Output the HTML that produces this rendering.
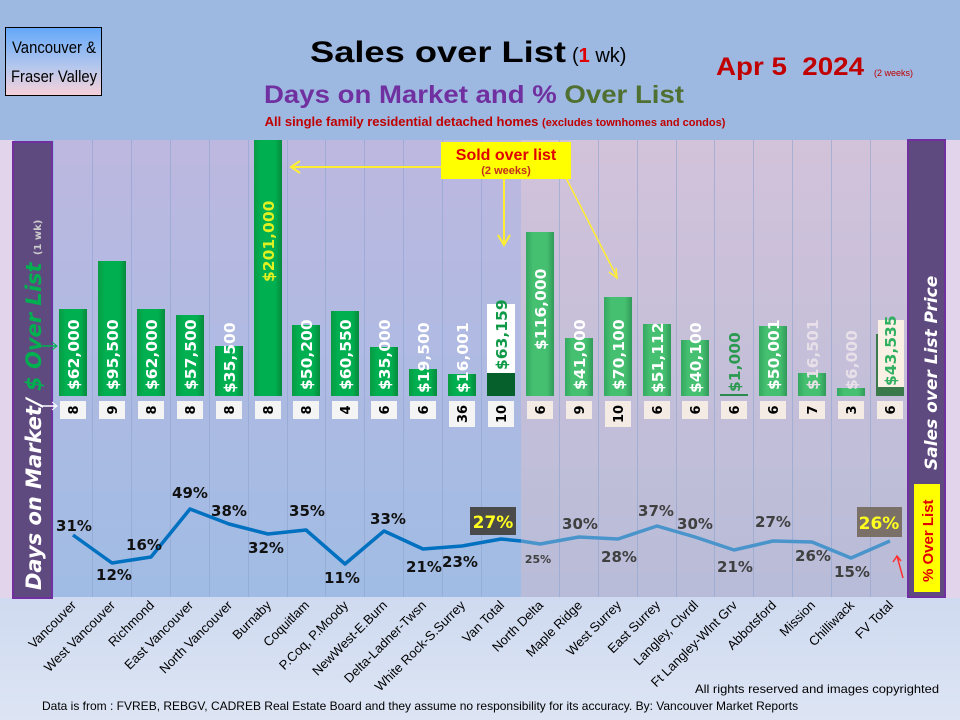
<!DOCTYPE html>
<html><head><meta charset="utf-8"><style>
html,body{margin:0;padding:0;width:960px;height:720px;overflow:hidden;background:#9db9e2}
svg{display:block}
.v{font-family:"DejaVu Sans","Liberation Sans",sans-serif;font-weight:bold;font-size:15.5px;fill:#fff}
.d{font-family:"DejaVu Sans","Liberation Sans",sans-serif;font-weight:bold;font-size:13px;fill:#000}
.c{font-family:"Liberation Sans",sans-serif;font-size:13px;fill:#000}
.p{font-family:"DejaVu Sans","Liberation Sans",sans-serif;font-weight:bold;font-size:15px;fill:#111;text-anchor:middle}
.q{font-family:"DejaVu Sans","Liberation Sans",sans-serif;font-weight:bold;font-size:15px;fill:#404040;text-anchor:middle}
</style></head><body>
<svg width="960" height="720" viewBox="0 0 960 720" xmlns="http://www.w3.org/2000/svg">
<defs>
<linearGradient id="bgL" x1="0" y1="0" x2="0" y2="1"><stop offset="0" stop-color="#bdb8e0"/><stop offset="1" stop-color="#a0bce4"/></linearGradient>
<linearGradient id="bgR" x1="0" y1="0" x2="0" y2="1"><stop offset="0" stop-color="#d2c2da"/><stop offset="1" stop-color="#b8bcd8"/></linearGradient>
<linearGradient id="bot" x1="0" y1="0" x2="0" y2="1"><stop offset="0" stop-color="#cfdaf0"/><stop offset="1" stop-color="#dde5f4"/></linearGradient>
<linearGradient id="box" x1="0" y1="0" x2="0" y2="1"><stop offset="0" stop-color="#64a8fa"/><stop offset="0.6" stop-color="#b8c8ec"/><stop offset="1" stop-color="#f8d0d8"/></linearGradient>
<linearGradient id="gb" x1="0" y1="0" x2="1" y2="0"><stop offset="0" stop-color="#0a9a44"/><stop offset="0.25" stop-color="#00b050"/><stop offset="0.75" stop-color="#00b050"/><stop offset="1" stop-color="#078a3c"/></linearGradient>
<linearGradient id="gr" x1="0" y1="0" x2="1" y2="0"><stop offset="0" stop-color="#34a860"/><stop offset="0.25" stop-color="#45bf70"/><stop offset="0.75" stop-color="#45bf70"/><stop offset="1" stop-color="#309a58"/></linearGradient>
</defs>
<rect x="0" y="0" width="960" height="140" fill="#9db9e2"/>
<rect x="0" y="597" width="960" height="123" fill="url(#bot)"/>
<rect x="0" y="140" width="14" height="458" fill="#e2d4ea"/>
<rect x="945" y="140" width="15" height="458" fill="#e2d4ea"/>
<rect x="54" y="140" width="467" height="457" fill="url(#bgL)"/>
<rect x="521" y="140" width="387" height="457" fill="url(#bgR)"/>
<g stroke="#8ea4d0" stroke-width="1" opacity="0.6">
<line x1="92.5" y1="140" x2="92.5" y2="597"/><line x1="131.5" y1="140" x2="131.5" y2="597"/><line x1="170.5" y1="140" x2="170.5" y2="597"/><line x1="209.5" y1="140" x2="209.5" y2="597"/><line x1="248.5" y1="140" x2="248.5" y2="597"/><line x1="287.5" y1="140" x2="287.5" y2="597"/><line x1="325.5" y1="140" x2="325.5" y2="597"/><line x1="364.5" y1="140" x2="364.5" y2="597"/><line x1="403.5" y1="140" x2="403.5" y2="597"/><line x1="442.5" y1="140" x2="442.5" y2="597"/><line x1="481.5" y1="140" x2="481.5" y2="597"/><line x1="559.5" y1="140" x2="559.5" y2="597"/><line x1="598.5" y1="140" x2="598.5" y2="597"/><line x1="637.5" y1="140" x2="637.5" y2="597"/><line x1="676.5" y1="140" x2="676.5" y2="597"/><line x1="714.5" y1="140" x2="714.5" y2="597"/><line x1="753.5" y1="140" x2="753.5" y2="597"/><line x1="792.5" y1="140" x2="792.5" y2="597"/><line x1="831.5" y1="140" x2="831.5" y2="597"/><line x1="870.5" y1="140" x2="870.5" y2="597"/>
</g>

<!-- header -->
<rect x="5.5" y="27.5" width="96" height="68" fill="url(#box)" stroke="#000" stroke-width="1"/>
<text x="54" y="53" font-family="Liberation Sans Narrow, Liberation Sans, sans-serif" font-size="17" text-anchor="middle" textLength="84" lengthAdjust="spacingAndGlyphs">Vancouver &amp;</text>
<text x="54" y="82" font-family="Liberation Sans Narrow, Liberation Sans, sans-serif" font-size="17" text-anchor="middle" textLength="86" lengthAdjust="spacingAndGlyphs">Fraser Valley</text>
<text x="310" y="62" font-family="Liberation Sans, sans-serif" font-size="30" font-weight="bold" textLength="256" lengthAdjust="spacingAndGlyphs">Sales over List</text>
<text x="572" y="62" font-family="Liberation Sans, sans-serif" font-size="20">(<tspan fill="#e00000" font-weight="bold">1</tspan> wk)</text>
<text x="716" y="75" font-family="Liberation Sans, sans-serif" font-size="25" font-weight="bold" fill="#c00000" textLength="148" lengthAdjust="spacingAndGlyphs" xml:space="preserve">Apr 5  2024</text>
<text x="874" y="76" font-family="Liberation Sans, sans-serif" font-size="9" fill="#c00000">(2 weeks)</text>
<text x="474" y="103" font-family="Liberation Sans, sans-serif" font-size="25" font-weight="bold" fill="#7030a0" text-anchor="middle" textLength="420" lengthAdjust="spacingAndGlyphs">Days on Market and % <tspan fill="#4f7030">Over List</tspan></text>
<text x="495" y="126" font-family="Liberation Sans, sans-serif" font-size="13" font-weight="bold" fill="#c00000" text-anchor="middle">All single family residential detached homes <tspan font-size="11">(excludes townhomes and condos)</tspan></text>

<!-- side bars -->
<rect x="13" y="142" width="39" height="456" fill="#5f4a80" stroke="#7030a0" stroke-width="2"/>
<text transform="translate(41,590) rotate(-90)" font-family="DejaVu Sans, sans-serif" font-size="21" font-weight="bold" font-style="italic" fill="#fff">Days on Market/ <tspan fill="#00b050">$ Over List</tspan> <tspan font-size="10" font-style="normal" fill="#ccc">(1 wk)</tspan></text>
<line x1="40" y1="346" x2="57" y2="346" stroke="#00b050" stroke-width="1.5"/><path d="M52,342 L57,346 L52,350" stroke="#00b050" fill="none"/>
<line x1="40" y1="406" x2="57" y2="406" stroke="#fff" stroke-width="1.5"/><path d="M52,402 L57,406 L52,410" stroke="#fff" fill="none"/>
<rect x="908" y="140" width="37" height="457" fill="#5f4a80" stroke="#7030a0" stroke-width="2"/>
<text transform="translate(937,470) rotate(-90)" font-family="DejaVu Sans, sans-serif" font-size="17" font-weight="bold" font-style="italic" fill="#fff">Sales over List Price</text>
<rect x="914" y="484" width="26" height="108" fill="#ffff00"/>
<text transform="translate(933,582) rotate(-90)" font-family="Liberation Sans, sans-serif" font-size="15" font-weight="bold" fill="#e00000">% Over List</text>
<path d="M903,578 L897,556 M893,562 L897,556 L901,561" stroke="#ff3030" stroke-width="1.5" fill="none"/>

<!-- bars -->
<rect x="59" y="309" width="28" height="87" fill="url(#gb)"/>
<rect x="98" y="261" width="28" height="135" fill="url(#gb)"/>
<rect x="137" y="309" width="28" height="87" fill="url(#gb)"/>
<rect x="176" y="315" width="28" height="81" fill="url(#gb)"/>
<rect x="215" y="346" width="28" height="50" fill="url(#gb)"/>
<rect x="254" y="140" width="28" height="256" fill="url(#gb)"/>
<rect x="292" y="325" width="28" height="71" fill="url(#gb)"/>
<rect x="331" y="311" width="28" height="85" fill="url(#gb)"/>
<rect x="370" y="347" width="28" height="49" fill="url(#gb)"/>
<rect x="409" y="369" width="28" height="27" fill="url(#gb)"/>
<rect x="448" y="374" width="28" height="22" fill="url(#gb)"/>
<rect x="487" y="373" width="28" height="23" fill="#06602c"/>
<rect x="487" y="304" width="28" height="69" fill="#fff"/>
<rect x="526" y="232" width="28" height="164" fill="url(#gr)"/>
<rect x="565" y="338" width="28" height="58" fill="url(#gr)"/>
<rect x="604" y="297" width="28" height="99" fill="url(#gr)"/>
<rect x="643" y="324" width="28" height="72" fill="url(#gr)"/>
<rect x="681" y="340" width="28" height="56" fill="url(#gr)"/>
<rect x="720" y="394" width="28" height="2" fill="#2a8a50"/>
<rect x="759" y="326" width="28" height="70" fill="url(#gr)"/>
<rect x="798" y="373" width="28" height="23" fill="url(#gr)"/>
<rect x="837" y="388" width="28" height="8" fill="url(#gr)"/>
<rect x="876" y="334" width="28" height="62" fill="#3a7a4a"/>
<rect x="878" y="320" width="26" height="67" fill="#faf0e4"/>

<!-- bar labels -->
<text class="v" transform="translate(79,390) rotate(-90)">$62,000</text>
<text class="v" transform="translate(118,390) rotate(-90)">$95,500</text>
<text class="v" transform="translate(157,390) rotate(-90)">$62,000</text>
<text class="v" transform="translate(196,390) rotate(-90)">$57,500</text>
<text class="v" transform="translate(235,393) rotate(-90)">$35,500</text>
<text class="v" transform="translate(274,282) rotate(-90)" style="fill:#e0f020">$201,000</text>
<text class="v" transform="translate(312,390) rotate(-90)">$50,200</text>
<text class="v" transform="translate(351,390) rotate(-90)">$60,550</text>
<text class="v" transform="translate(390,390) rotate(-90)">$35,000</text>
<text class="v" transform="translate(429,393) rotate(-90)">$19,500</text>
<text class="v" transform="translate(468,393) rotate(-90)">$16,001</text>
<text class="v" transform="translate(507,370) rotate(-90)" style="fill:#109a48">$63,159</text>
<text class="v" transform="translate(546,350) rotate(-90)">$116,000</text>
<text class="v" transform="translate(585,390) rotate(-90)">$41,000</text>
<text class="v" transform="translate(624,390) rotate(-90)">$70,100</text>
<text class="v" transform="translate(663,393) rotate(-90)">$51,112</text>
<text class="v" transform="translate(701,393) rotate(-90)">$40,100</text>
<text class="v" transform="translate(740,392) rotate(-90)" style="fill:#2a9a50">$1,000</text>
<text class="v" transform="translate(779,390) rotate(-90)">$50,001</text>
<text class="v" transform="translate(818,390) rotate(-90)" style="fill:#e8e0e8">$16,501</text>
<text class="v" transform="translate(857,390) rotate(-90)" style="fill:#e8e0e8">$6,000</text>
<text class="v" transform="translate(896,386) rotate(-90)" style="fill:#30b060">$43,535</text>

<!-- DOM boxes -->
<g fill="#f4f4f4">
<rect x="60" y="401" width="26" height="18"/><rect x="99" y="401" width="26" height="18"/><rect x="138" y="401" width="26" height="18"/><rect x="177" y="401" width="26" height="18"/><rect x="216" y="401" width="26" height="18"/><rect x="255" y="401" width="26" height="18"/><rect x="293" y="401" width="26" height="18"/><rect x="332" y="401" width="26" height="18"/><rect x="371" y="401" width="26" height="18"/><rect x="410" y="401" width="26" height="18"/><rect x="449" y="401" width="26" height="26"/><rect x="488" y="401" width="26" height="26"/>
</g>
<g fill="#f4ebe4">
<rect x="527" y="401" width="26" height="18"/><rect x="566" y="401" width="26" height="18"/><rect x="605" y="401" width="26" height="26"/><rect x="644" y="401" width="26" height="18"/><rect x="682" y="401" width="26" height="18"/><rect x="721" y="401" width="26" height="18"/><rect x="760" y="401" width="26" height="18"/><rect x="799" y="401" width="26" height="18"/><rect x="838" y="401" width="26" height="18"/><rect x="877" y="401" width="26" height="18"/>
</g>
<g>
<text class="d" text-anchor="middle" transform="translate(78,410) rotate(-90)">8</text>
<text class="d" text-anchor="middle" transform="translate(117,410) rotate(-90)">9</text>
<text class="d" text-anchor="middle" transform="translate(156,410) rotate(-90)">8</text>
<text class="d" text-anchor="middle" transform="translate(195,410) rotate(-90)">8</text>
<text class="d" text-anchor="middle" transform="translate(234,410) rotate(-90)">8</text>
<text class="d" text-anchor="middle" transform="translate(273,410) rotate(-90)">8</text>
<text class="d" text-anchor="middle" transform="translate(311,410) rotate(-90)">8</text>
<text class="d" text-anchor="middle" transform="translate(350,410) rotate(-90)">4</text>
<text class="d" text-anchor="middle" transform="translate(389,410) rotate(-90)">6</text>
<text class="d" text-anchor="middle" transform="translate(428,410) rotate(-90)">6</text>
<text class="d" text-anchor="middle" transform="translate(467,414) rotate(-90)">36</text>
<text class="d" text-anchor="middle" transform="translate(506,414) rotate(-90)">10</text>
<text class="d" text-anchor="middle" transform="translate(545,410) rotate(-90)">6</text>
<text class="d" text-anchor="middle" transform="translate(584,410) rotate(-90)">9</text>
<text class="d" text-anchor="middle" transform="translate(623,414) rotate(-90)">10</text>
<text class="d" text-anchor="middle" transform="translate(662,410) rotate(-90)">6</text>
<text class="d" text-anchor="middle" transform="translate(700,410) rotate(-90)">6</text>
<text class="d" text-anchor="middle" transform="translate(739,410) rotate(-90)">6</text>
<text class="d" text-anchor="middle" transform="translate(778,410) rotate(-90)">6</text>
<text class="d" text-anchor="middle" transform="translate(817,410) rotate(-90)">7</text>
<text class="d" text-anchor="middle" transform="translate(856,410) rotate(-90)">3</text>
<text class="d" text-anchor="middle" transform="translate(895,410) rotate(-90)">6</text>
</g>

<!-- annotation -->
<line x1="441" y1="167" x2="292" y2="167" stroke="#ffee30" stroke-width="2"/>
<path d="M300,161 L291,167 L300,173" stroke="#ffee30" stroke-width="2" fill="none"/>
<line x1="504" y1="178" x2="504" y2="244" stroke="#ffee30" stroke-width="2"/>
<path d="M498,235 L504,245 L510,235" stroke="#ffee30" stroke-width="2" fill="none"/>
<line x1="566" y1="178" x2="617" y2="277" stroke="#ffee30" stroke-width="1.5"/>
<path d="M609,272 L617,278 L616,268" stroke="#ffee30" stroke-width="1.5" fill="none"/>
<rect x="441" y="142" width="130" height="37" fill="#ffff00"/>
<text x="506" y="160" font-family="Liberation Sans, sans-serif" font-size="16" font-weight="bold" fill="#e00000" text-anchor="middle">Sold over list</text>
<text x="506" y="174" font-family="Liberation Sans, sans-serif" font-size="11" font-weight="bold" fill="#c03020" text-anchor="middle">(2 weeks)</text>

<!-- line -->
<polyline points="73,535 112,563 151,557 190,509 229,524 268,534 306,530 345,564 384,531 423,549 462,546 501,539 521,541" fill="none" stroke="#0070c0" stroke-width="3.5" stroke-linejoin="round"/>
<polyline points="521,541 540,544 579,537 618,539 657,526 695,537 734,550 773,541 812,542 851,558 890,541" fill="none" stroke="#4a94cc" stroke-width="3.5" stroke-linejoin="round"/>

<text class="p" x="74" y="531">31%</text>
<text class="p" x="114" y="580">12%</text>
<text class="p" x="144" y="550">16%</text>
<text class="p" x="190" y="498">49%</text>
<text class="p" x="229" y="516">38%</text>
<text class="p" x="266" y="553">32%</text>
<text class="p" x="307" y="516">35%</text>
<text class="p" x="342" y="583">11%</text>
<text class="p" x="388" y="524">33%</text>
<text class="p" x="424" y="572">21%</text>
<text class="p" x="460" y="567">23%</text>
<rect x="470" y="507" width="46" height="28" fill="#4a4a4a"/>
<text class="p" x="493" y="528" style="fill:#ffff20;font-size:17px">27%</text>
<text class="q" x="538" y="563" style="font-size:11px">25%</text>
<text class="q" x="580" y="529">30%</text>
<text class="q" x="619" y="562">28%</text>
<text class="q" x="656" y="516">37%</text>
<text class="q" x="695" y="529">30%</text>
<text class="q" x="735" y="572">21%</text>
<text class="q" x="773" y="527">27%</text>
<text class="q" x="813" y="561">26%</text>
<text class="q" x="852" y="577">15%</text>
<rect x="857" y="507" width="45" height="30" fill="#7a7068"/>
<text class="p" x="879" y="529" style="fill:#ffff20;font-size:17px">26%</text>

<!-- category labels -->
<g class="c">
<text transform="translate(77,606) rotate(-45)" text-anchor="end">Vancouver</text>
<text transform="translate(116,606) rotate(-45)" text-anchor="end">West Vancouver</text>
<text transform="translate(155,606) rotate(-45)" text-anchor="end">Richmond</text>
<text transform="translate(194,606) rotate(-45)" text-anchor="end">East Vancouver</text>
<text transform="translate(233,606) rotate(-45)" text-anchor="end">North Vancouver</text>
<text transform="translate(272,606) rotate(-45)" text-anchor="end">Burnaby</text>
<text transform="translate(310,606) rotate(-45)" text-anchor="end">Coquitlam</text>
<text transform="translate(349,606) rotate(-45)" text-anchor="end">P.Coq, P.Moody</text>
<text transform="translate(388,606) rotate(-45)" text-anchor="end">NewWest-E.Burn</text>
<text transform="translate(427,606) rotate(-45)" text-anchor="end">Delta-Ladner-Twsn</text>
<text transform="translate(466,606) rotate(-45)" text-anchor="end">White Rock-S.Surrey</text>
<text transform="translate(505,606) rotate(-45)" text-anchor="end">Van Total</text>
<text transform="translate(544,606) rotate(-45)" text-anchor="end">North Delta</text>
<text transform="translate(583,606) rotate(-45)" text-anchor="end">Maple Ridge</text>
<text transform="translate(622,606) rotate(-45)" text-anchor="end">West Surrey</text>
<text transform="translate(661,606) rotate(-45)" text-anchor="end">East Surrey</text>
<text transform="translate(699,606) rotate(-45)" text-anchor="end">Langley, Clvrdl</text>
<text transform="translate(738,606) rotate(-45)" text-anchor="end">Ft Langley-Wlnt Grv</text>
<text transform="translate(777,606) rotate(-45)" text-anchor="end">Abbotsford</text>
<text transform="translate(816,606) rotate(-45)" text-anchor="end">Mission</text>
<text transform="translate(855,606) rotate(-45)" text-anchor="end">Chilliwack</text>
<text transform="translate(894,606) rotate(-45)" text-anchor="end">FV Total</text>
</g>

<text x="695" y="693" font-family="Liberation Sans, sans-serif" font-size="12" textLength="244" lengthAdjust="spacingAndGlyphs">All rights reserved and  images copyrighted</text>
<text x="42" y="710" font-family="Liberation Sans, sans-serif" font-size="12">Data is from : FVREB, REBGV, CADREB Real Estate Board and they assume no responsibility for its accuracy. By: Vancouver  Market Reports</text>
</svg>
</body></html>
